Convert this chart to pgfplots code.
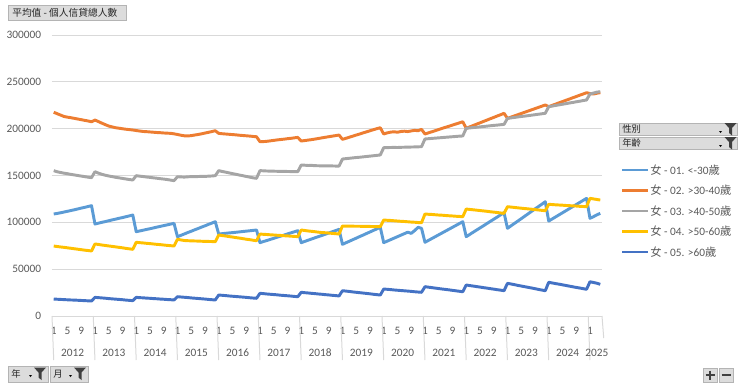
\documentclass[border=0pt]{standalone}
\usepackage{fontspec}
\setmainfont{Carlito}
\newfontfamily\cjk{Noto Sans CJK TC}
\usepackage{pgfplots}
\usepackage{pgfplotstable}
\pgfplotsset{compat=1.18}
\definecolor{c1}{HTML}{5B9BD5}
\definecolor{c2}{HTML}{ED7D31}
\definecolor{c3}{HTML}{A5A5A5}
\definecolor{c4}{HTML}{FFC000}
\definecolor{c5}{HTML}{4472C4}
\definecolor{gridc}{HTML}{D9D9D9}
\definecolor{txt}{HTML}{595959}
\definecolor{btn}{HTML}{DCDCDC}
\definecolor{btnd}{HTML}{B4B4B4}
\definecolor{icon}{HTML}{404040}
\definecolor{btxt}{HTML}{262626}

\pgfplotstableread{
m s1 s2 s3 s4 s5
0 108900 217500 155200 74700 18100
1 109500 216000 154000 74200 17900
2 110200 214500 153200 73700 17700
3 111000 213000 152500 73300 17500
4 111800 212300 151900 72800 17300
5 112600 211700 151200 72300 17100
6 113400 211000 150600 71800 17000
7 114300 210300 150000 71300 16800
8 115200 209600 149400 70800 16600
9 116000 208900 148800 70300 16400
10 116900 208200 148200 69900 16200
11 117800 207400 147700 69400 16000
12 98200 209200 154100 76900 19900
13 99100 207600 152500 76400 19600
14 100000 205900 151300 75800 19300
15 100800 204300 150300 75300 19000
16 101700 202800 149500 74800 18600
17 102600 201900 148800 74300 18300
18 103400 201000 148100 73800 18000
19 104300 200500 147500 73300 17700
20 105100 199900 146900 72800 17400
21 106000 199400 146300 72200 17000
22 106900 199000 145700 71700 16700
23 107800 198600 145200 71200 16400
24 90000 198000 149800 78700 19900
25 90800 197500 149300 78300 19600
26 91600 197000 148900 78000 19400
27 92400 196800 148400 77600 19100
28 93200 196500 148000 77300 18900
29 94000 196200 147500 76900 18600
30 94900 195900 147100 76500 18400
31 95700 195700 146600 76200 18100
32 96500 195400 146200 75800 17900
33 97300 195200 145700 75400 17600
34 98100 195000 145100 75100 17400
35 98900 194500 144500 74700 17100
36 84700 193800 148700 81900 20600
37 86100 193000 148500 81200 20300
38 87600 192400 148300 80600 20000
39 89100 192200 148600 80400 19700
40 90500 192600 148800 80200 19300
41 92000 193200 148700 80100 19000
42 93400 193800 148900 80000 18700
43 94900 194500 149100 79800 18400
44 96300 195300 149000 79700 18100
45 97800 196100 149300 79600 17700
46 99200 196900 149500 79500 17400
47 100700 197800 149800 79300 17100
48 87500 195000 155200 86500 22400
49 87900 194600 154300 85900 22100
50 88300 194300 153600 85400 21800
51 88700 194000 152800 84800 21400
52 89000 193700 152000 84300 21100
53 89400 193400 151300 83700 20800
54 89800 193000 150500 83200 20500
55 90200 192700 149800 82600 20200
56 90600 192400 149000 82000 19900
57 91000 192100 148300 81500 19500
58 91400 191700 147500 80900 19200
59 91800 191400 147000 80400 18900
60 78300 186000 155200 87500 24200
61 79500 186200 155000 87200 23900
62 80600 186500 154800 87000 23500
63 81800 187000 154700 86700 23200
64 82900 187500 154600 86500 22900
65 84100 188000 154500 86200 22600
66 85300 188400 154500 86000 22200
67 86400 188800 154400 85700 21900
68 87600 189300 154300 85500 21600
69 88800 189700 154200 85200 21300
70 89900 190200 154200 85000 20900
71 91100 190700 154100 84700 20600
72 78300 186800 161200 91800 25300
73 79600 187300 161000 91300 24900
74 80900 187800 160700 90800 24600
75 82200 188300 160800 90400 24200
76 83500 188900 160500 90000 23900
77 84800 189500 160400 89500 23500
78 86000 190200 160300 89100 23200
79 87300 190800 160200 88900 22800
80 88600 191400 160300 88600 22500
81 89900 192000 160200 88200 22100
82 91200 192600 160100 87900 21800
83 92500 193200 160100 87500 21400
84 76500 188600 167600 96100 27000
85 78200 189700 168000 96000 26600
86 79800 190900 168400 96000 26200
87 81500 192000 168800 95900 25700
88 83100 193200 169200 95800 25300
89 84800 194300 169500 95800 24900
90 86400 195500 169900 95700 24500
91 88100 196600 170300 95700 24100
92 89700 197800 170700 95600 23700
93 91400 198900 171100 95500 23200
94 93000 200000 171500 95500 22800
95 94700 201000 171900 95400 22400
96 78300 194300 179700 102500 28800
97 79900 195500 179800 102200 28500
98 81500 196300 179900 102000 28200
99 83100 196700 180000 101700 27800
100 84700 196200 179900 101400 27500
101 86300 197000 180100 101100 27200
102 87900 197300 180200 100900 26900
103 89500 196900 180300 100600 26600
104 88200 197600 180400 100300 26300
105 91200 198200 180500 100100 25900
106 94700 197800 180600 99800 25600
107 93600 199300 180800 99600 25300
108 78700 194300 189000 108900 31300
109 80700 195500 189300 108600 30800
110 82700 196700 189600 108400 30300
111 84700 197900 189900 108100 29800
112 86700 199100 190200 107800 29300
113 88700 200300 190500 107600 28800
114 90700 201500 190800 107300 28400
115 92700 202600 191100 107000 27900
116 94700 203800 191400 106800 27400
117 96700 205000 191700 106500 26900
118 98700 206200 192000 106300 26400
119 100700 207400 192200 106000 25900
120 84700 200400 200400 114200 33100
121 87000 201900 200800 113800 32500
122 89400 203300 201200 113400 32000
123 91700 204800 201500 113000 31400
124 94000 206200 201900 112600 30900
125 96300 207700 202300 112200 30300
126 98700 209100 202700 111800 29800
127 101000 210600 203100 111300 29200
128 103300 212000 203500 110900 28700
129 105600 213500 203800 110500 28100
130 108000 214900 204200 110000 27600
131 110300 216400 204600 109600 27000
132 93600 211000 211000 116700 34900
133 96200 212300 211500 116300 34200
134 98800 213600 212000 115900 33500
135 101300 214900 212500 115500 32700
136 103900 216200 213000 115100 32000
137 106500 217500 213400 114700 31300
138 109100 218800 213900 114400 30600
139 111700 220100 214400 114000 29900
140 114300 221400 214900 113600 29200
141 116800 222700 215400 113200 28400
142 119400 224000 215900 112800 27700
143 122000 225300 216400 112400 27000
144 101400 223500 223500 119200 36000
145 103600 224900 224100 119000 35300
146 105800 226200 224800 118700 34600
147 108000 227600 225400 118500 34000
148 110200 228900 226100 118300 33300
149 112400 230300 226700 118000 32600
150 114600 231600 227400 117800 31900
151 116800 233000 228000 117600 31200
152 119000 234300 228700 117400 30500
153 121200 235700 229300 117100 29900
154 123400 237000 230000 116900 29200
155 125600 238400 230600 116700 28500
156 104300 237500 237000 125600 36600
157 106000 237000 238000 125000 35800
158 108000 237800 239000 124400 35000
159 109600 238500 239500 123800 33800
}\data

% funnel icon, top-left corner at (#1,#2) in px (y downwards)
\newcommand{\funnel}[2]{%
  \fill[icon] (#1,#2) -- ++(12,0) -- ++(-4.5,5) -- ++(0,7.5) -- ++(-3,-2.5) -- ++(0,-5) -- cycle;}
\newcommand{\darrow}[2]{%
  \fill[black] (#1,#2) -- ++(3,0) -- ++(-1.5,2) -- cycle;}

\begin{document}
\begin{tikzpicture}
\begin{scope}[x=0.75pt,y=-0.75pt]
\path[use as bounding box] (0,0) rectangle (740,386);
\end{scope}

\begin{axis}[
  at={(39pt,-237pt)}, anchor=south west,
  scale only axis, width=412.5pt, height=210.75pt,
  xmin=-0.5, xmax=159.5, ymin=0, ymax=300000,
  clip=false,
  axis line style={draw=none},
  ytick={0,50000,100000,150000,200000,250000,300000},
  ymajorgrids, grid style={gridc, line width=0.75pt},
  major tick length=0pt,
  xtick={0,4,...,156},
  xticklabels={1,5,9,1,5,9,1,5,9,1,5,9,1,5,9,1,5,9,1,5,9,1,5,9,1,5,9,1,5,9,1,5,9,1,5,9,1,5,9,1},
  tick label style={font=\fontsize{8.5}{10}\selectfont, text=txt},
  yticklabel style={xshift=-4.6pt},
  xticklabel style={anchor=center, yshift=-11.25pt},
  scaled y ticks=false,
  /pgf/number format/fixed,
  /pgf/number format/precision=0,
  /pgf/number format/1000 sep={},
  /pgf/number format/assume math mode=true,
]
\addplot[c1, line width=2.2pt, line join=round, no markers] table[x=m, y=s1]{\data};
\addplot[c2, line width=2.2pt, line join=round, no markers] table[x=m, y=s2]{\data};
\addplot[c3, line width=2.2pt, line join=round, no markers] table[x=m, y=s3]{\data};
\addplot[c4, line width=2.2pt, line join=round, no markers] table[x=m, y=s4]{\data};
\addplot[c5, line width=2.2pt, line join=round, no markers] table[x=m, y=s5]{\data};

\pgfplotsinvokeforeach{0,...,13}{
  \draw[gridc, line width=0.75pt] (axis cs:{#1*12-0.5},0) -- ++(0,-33pt);
}
\draw[gridc, line width=0.75pt] (axis cs:159.5,0) -- ++(0,-16.5pt);

\begin{scope}[every node/.style={font=\fontsize{8.5}{10}\selectfont, text=txt, yshift=-27.4pt}]
\node at (axis cs:5.5,0) {2012};
\node at (axis cs:17.5,0) {2013};
\node at (axis cs:29.5,0) {2014};
\node at (axis cs:41.5,0) {2015};
\node at (axis cs:53.5,0) {2016};
\node at (axis cs:65.5,0) {2017};
\node at (axis cs:77.5,0) {2018};
\node at (axis cs:89.5,0) {2019};
\node at (axis cs:101.5,0) {2020};
\node at (axis cs:113.5,0) {2021};
\node at (axis cs:125.5,0) {2022};
\node at (axis cs:137.5,0) {2023};
\node at (axis cs:149.5,0) {2024};
\node at (axis cs:158,0) {2025};
\end{scope}
\end{axis}

\begin{scope}[x=0.75pt,y=-0.75pt]
% title button
\filldraw[fill=btn, draw=btnd, line width=0.5pt] (8,5) rectangle (126,20);
\node[anchor=west, inner sep=0, text=btxt, font=\cjk\fontsize{7.3}{9}\selectfont] at (12,12.5) {平均值 - 個人信貸總人數};
% legend filter buttons
\filldraw[fill=btn, draw=btnd, line width=0.5pt] (619,123) rectangle (737,135.5);
\node[anchor=west, inner sep=0, text=btxt, font=\cjk\fontsize{7}{9}\selectfont] at (622,129.3) {性別};
\darrow{719}{131}
\funnel{724.5}{123}
\filldraw[fill=btn, draw=btnd, line width=0.5pt] (619,137) rectangle (737,149.5);
\node[anchor=west, inner sep=0, text=btxt, font=\cjk\fontsize{7}{9}\selectfont] at (622,143.3) {年齡};
\darrow{719}{145}
\funnel{724.5}{137}
% legend entries
\begin{scope}[every node/.style={anchor=west, inner sep=0, text=txt, font=\fontsize{8.5}{10}\selectfont}]
\draw[c1, line width=2.2pt] (622,170) -- (648,170);
\node at (650,170) {{\cjk 女} - 01. <-30{\cjk 歲}};
\draw[c2, line width=2.2pt] (622,190.5) -- (648,190.5);
\node at (650,190.5) {{\cjk 女} - 02. >30-40{\cjk 歲}};
\draw[c3, line width=2.2pt] (622,211) -- (648,211);
\node at (650,211) {{\cjk 女} - 03. >40-50{\cjk 歲}};
\draw[c4, line width=2.2pt] (622,231.5) -- (648,231.5);
\node at (650,231.5) {{\cjk 女} - 04. >50-60{\cjk 歲}};
\draw[c5, line width=2.2pt] (622,252) -- (648,252);
\node at (650,252) {{\cjk 女} - 05. >60{\cjk 歲}};
\end{scope}
% bottom field buttons
\filldraw[fill=btn, draw=btnd, line width=0.5pt] (8,366) rectangle (48,382);
\node[anchor=west, inner sep=0, text=btxt, font=\cjk\fontsize{7}{9}\selectfont] at (11,374) {年};
\darrow{29}{375}
\funnel{34}{367.5}
\filldraw[fill=btn, draw=btnd, line width=0.5pt] (50,366) rectangle (88,382);
\node[anchor=west, inner sep=0, text=btxt, font=\cjk\fontsize{7}{9}\selectfont] at (53,374) {月};
\darrow{69}{375}
\funnel{74}{367.5}
% +/- buttons
\filldraw[fill=btn, draw=btnd, line width=0.5pt] (703,368) rectangle (717,382);
\filldraw[fill=btn, draw=btnd, line width=0.5pt] (719,368) rectangle (733,382);
\draw[icon, line width=1.5pt] (705.5,375) -- (714.5,375) (710,370.5) -- (710,379.5);
\draw[icon, line width=1.5pt] (721.5,375) -- (730.5,375);
\end{scope}
\end{tikzpicture}
\end{document}
